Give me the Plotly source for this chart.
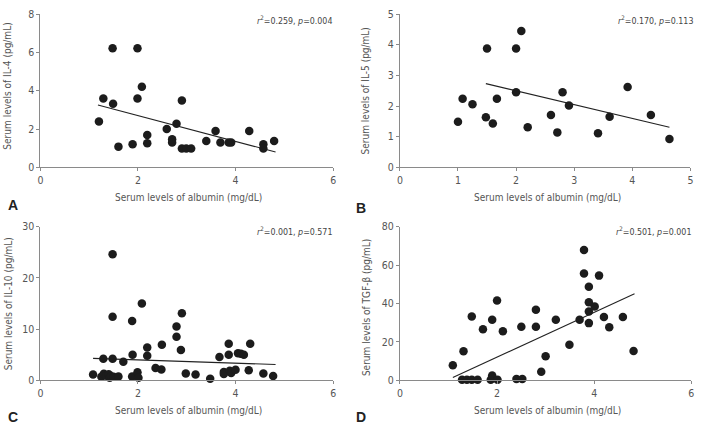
import plotly.graph_objects as go

# ---------------- data ----------------
a_x = [1.20, 1.29, 1.48, 1.49, 1.60, 1.89, 1.99, 1.99, 2.08, 2.19, 2.19, 2.59, 2.70, 2.70, 2.79,
       2.90, 2.90, 2.99, 3.09, 3.40, 3.59, 3.69, 3.86, 3.91, 4.28, 4.57, 4.57, 4.79]
a_y = [2.39, 3.59, 6.21, 3.32, 1.08, 1.20, 6.21, 3.59, 4.20, 1.69, 1.25, 2.00, 1.47, 1.30, 2.27,
       3.49, 0.98, 0.98, 0.98, 1.37, 1.90, 1.30, 1.30, 1.30, 1.90, 1.20, 0.98, 1.37]
a_fit_x = [1.18, 4.82]
a_fit_y = [3.25, 0.80]

b_x = [1.00, 1.08, 1.25, 1.48, 1.50, 1.60, 1.67, 2.00, 2.00, 2.09, 2.20, 2.60, 2.71, 2.80, 2.91,
       3.41, 3.61, 3.92, 4.32, 4.64]
b_y = [1.49, 2.24, 2.06, 1.63, 3.88, 1.43, 2.24, 3.88, 2.45, 4.45, 1.31, 1.71, 1.14, 2.45, 2.02,
       1.11, 1.65, 2.62, 1.71, 0.92]
b_fit_x = [1.48, 4.64]
b_fit_y = [2.73, 1.31]

c_x = [1.08, 1.25, 1.29, 1.30, 1.35, 1.40, 1.42, 1.45, 1.50, 1.48, 1.48, 1.48, 1.60, 1.70, 1.88,
       1.89, 1.88, 1.99, 2.01, 2.08, 2.19, 2.19, 2.36, 2.48, 2.49, 2.79, 2.79, 2.90, 2.88, 2.98,
       3.18, 3.48, 3.67, 3.76, 3.76, 3.86, 3.86, 3.88, 3.91, 4.00, 4.05, 4.11, 4.17, 4.30, 4.27,
       4.57, 4.77]
c_y = [1.14, 0.70, 4.23, 1.30, 0.90, 1.20, 0.50, 0.80, 0.70, 24.6, 12.4, 4.23, 0.76, 3.66, 11.6,
       5.00, 0.76, 1.58, 0.50, 15.0, 6.40, 4.80, 2.40, 2.15, 6.95, 10.5, 8.50, 13.1, 5.94, 1.33,
       1.14, 0.32, 4.55, 1.64, 1.26, 7.14, 5.00, 1.90, 1.45, 2.08, 5.30, 5.20, 5.00, 7.14, 2.00,
       1.33, 0.88]
c_fit_x = [1.08, 4.82]
c_fit_y = [4.30, 3.10]

d_x = [1.09, 1.31, 1.28, 1.38, 1.48, 1.48, 1.60, 1.71, 1.90, 1.90, 1.90, 1.87, 2.00, 2.01, 2.12,
       2.40, 2.52, 2.50, 2.80, 2.80, 2.91, 3.00, 3.21, 3.49, 3.70, 3.79, 3.79, 3.89, 3.89, 3.89,
       3.89, 4.01, 4.10, 4.20, 4.31, 4.59, 4.81]
d_y = [7.9, 15.2, 0.3, 0.3, 0.3, 33.3, 0.3, 26.6, 31.5, 2.5, 1.3, 0.3, 41.6, 0.3, 25.6,
       0.8, 0.8, 27.9, 36.7, 27.9, 4.5, 12.6, 31.6, 18.5, 31.5, 67.8, 55.6, 48.7, 40.6, 35.9,
       29.8, 38.4, 54.5, 33.0, 27.6, 33.0, 15.3]
d_fit_x = [1.09, 4.83]
d_fit_y = [1.5, 45.1]

x_title = "Serum levels of albumin (mg/dL)"
y_titles = ["Serum levels of IL-4 (pg/mL)", "Serum levels of IL-5 (pg/mL)",
            "Serum levels of IL-10 (pg/mL)", "Serum levels of TGF-β (pg/mL)"]
stats = ["<i>r</i><sup>2</sup>=0.259, <i>p</i>=0.004", "<i>r</i><sup>2</sup>=0.170, <i>p</i>=0.113",
         "<i>r</i><sup>2</sup>=0.001, <i>p</i>=0.571", "<i>r</i><sup>2</sup>=0.501, <i>p</i>=0.001"]
letters = ["A", "B", "C", "D"]
x_ranges = [[0, 6], [0, 5], [0, 6], [0, 6]]
x_ticks = [[0, 2, 4, 6], [0, 1, 2, 3, 4, 5], [0, 2, 4, 6], [0, 2, 4, 6]]
y_ranges = [[0, 8], [0, 5], [0, 30], [0, 80]]
y_ticks = [[0, 2, 4, 6, 8], [0, 1, 2, 3, 4, 5], [0, 10, 20, 30], [0, 20, 40, 60, 80]]

# ---------------- layout geometry ----------------
W, H = 702, 425
FONT = "DejaVu Sans Condensed, Liberation Sans Narrow, sans-serif"
px_x = [(37.7, 333.0), (400.3, 693.3), (37.7, 333.0), (400.3, 694.3)]
px_y = [(8.3, 166.0), (8.3, 166.0), (227.0, 385.3), (227.0, 385.3)]

def fx(p):
    return p / W

def fy(p):
    return 1 - p / H

fig = go.Figure()
series = [(a_x, a_y, a_fit_x, a_fit_y), (b_x, b_y, b_fit_x, b_fit_y),
          (c_x, c_y, c_fit_x, c_fit_y), (d_x, d_y, d_fit_x, d_fit_y)]

annotations = []
for i, (sx, sy, fxv, fyv) in enumerate(series):
    n = "" if i == 0 else str(i + 1)
    xa, ya = "x" + n, "y" + n
    fig.add_trace(go.Scatter(x=fxv, y=fyv, mode="lines", xaxis=xa, yaxis=ya,
                             line=dict(color="#222222", width=1.1), showlegend=False,
                             hoverinfo="skip"))
    fig.add_trace(go.Scatter(x=sx, y=sy, mode="markers", xaxis=xa, yaxis=ya,
                             marker=dict(color="#1c1c1c", size=8.5, line=dict(width=0)),
                             showlegend=False, cliponaxis=False))
    axis_common = dict(showgrid=False, zeroline=False, showline=True, linecolor="#8a8a8a",
                       linewidth=1, ticks="outside", ticklen=3, tickcolor="#8a8a8a",
                       tickfont=dict(family=FONT, size=10.5, color="#555555"))
    fig.layout["xaxis" + n] = dict(domain=[fx(px_x[i][0]), fx(px_x[i][1])], range=x_ranges[i],
                                  tickvals=x_ticks[i], anchor=ya, **axis_common)
    fig.layout["yaxis" + n] = dict(domain=[fy(px_y[i][1]), fy(px_y[i][0])], range=y_ranges[i],
                                  tickvals=y_ticks[i], anchor=xa, **axis_common)

    cx = (px_x[i][0] + px_x[i][1]) / 2
    # x title
    annotations.append(dict(text=x_title, x=fx(cx + 2), y=fy(px_y[i][1] + 31), xref="paper", yref="paper",
                            showarrow=False, xanchor="center", yanchor="middle",
                            font=dict(family=FONT, size=10, color="#555555")))
    # y title
    ytx = 5 if i in (0, 2) else 366
    yty = [82, 87, 306, 310][i]
    annotations.append(dict(text=y_titles[i], x=fx(ytx), y=fy(yty), xref="paper", yref="paper",
                            showarrow=False, textangle=-90, xanchor="center", yanchor="middle",
                            font=dict(family=FONT, size=10, color="#555555")))
    # stats
    sx_r = [334, 698, 334, 696][i]
    sy_c = [14, 14, 232, 232][i]
    annotations.append(dict(text=stats[i], x=fx(sx_r), y=fy(sy_c), xref="paper", yref="paper",
                            showarrow=False, xanchor="right", yanchor="middle",
                            font=dict(family=FONT, size=8.8, color="#444444")))
    # letter
    lx = 3 if i in (0, 2) else 354
    ly = [205, 208, 423, 423][i]
    annotations.append(dict(text="<b>" + letters[i] + "</b>", x=fx(lx), y=fy(ly), xref="paper",
                            yref="paper", showarrow=False, xanchor="left", yanchor="middle",
                            font=dict(family="Liberation Sans, Arial, sans-serif", size=14,
                                      color="#222222")))

fig.update_layout(width=W, height=H, margin=dict(l=0, r=0, t=0, b=0),
                  paper_bgcolor="white", plot_bgcolor="white", annotations=annotations,
                  showlegend=False)

fig.write_html("out.html")
